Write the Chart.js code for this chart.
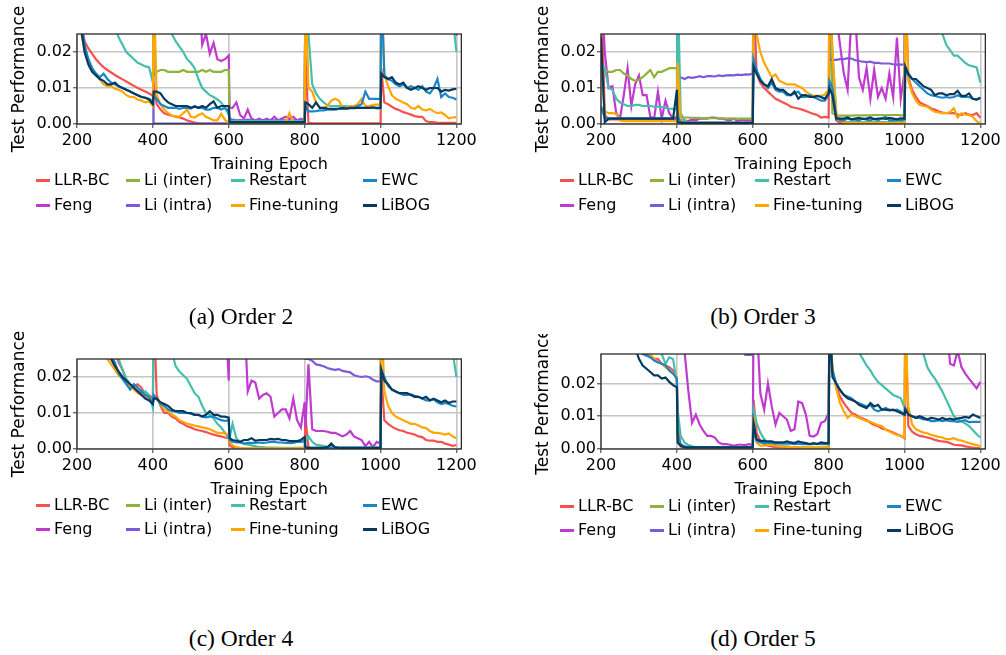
<!DOCTYPE html>
<html>
<head>
<meta charset="utf-8">
<script src="https://cdn.jsdelivr.net/npm/chart.js@4.4.0/dist/chart.umd.min.js"></script>
<style>
  body { margin: 0; background: #fff; width: 1006px; height: 655px; position: relative; overflow: hidden; font-family: 'DejaVu Sans', sans-serif; }
  canvas { position: absolute; }
  .leg { position: absolute; font-size: 16px; line-height: 20px; height: 20px; white-space: nowrap; color: #000; }
  .leg i { position: absolute; left: 0; top: 9px; width: 14px; height: 2.5px; }
  .leg span { position: absolute; left: 18px; top: 0; }
  .cap { position: absolute; font-family: 'Liberation Serif', serif; font-size: 23.5px; transform: translate(-50%, -50%); white-space: nowrap; color: #000; }
</style>
</head>
<body>
<canvas id="cA" width="480" height="175" style="left:0;top:0"></canvas>
<canvas id="cB" width="480" height="175" style="left:524px;top:0"></canvas>
<canvas id="cC" width="480" height="175" style="left:0;top:325px"></canvas>
<canvas id="cD" width="480" height="166" style="left:524px;top:334px"></canvas>
<div class="cap" style="left:241px;top:316px">(a) Order 2</div>
<div class="cap" style="left:763px;top:316px">(b) Order 3</div>
<div class="cap" style="left:241px;top:638px">(c) Order 4</div>
<div class="cap" style="left:763px;top:638px">(d) Order 5</div>
<script>
// values are in units of 0.001; H = above the visible range
const H = 40;

const EPOCHS = [
  200,210,220,230,240,250,260,270,280,290,300,310,320,330,340,350,360,370,380,390,400,
  402,410,420,430,440,450,460,470,480,490,500,510,520,530,540,550,560,570,580,590,600,
  602,610,620,630,640,650,660,670,680,690,700,710,720,730,740,750,760,770,780,790,800,
  802,810,820,830,840,850,860,870,880,890,900,910,920,930,940,950,960,970,980,990,1000,
  1002,1010,1020,1030,1040,1050,1060,1070,1080,1090,1100,1110,1120,1130,1140,1150,1160,1170,1180,1190,1200
];
const X_TICKS = [200, 400, 600, 800, 1000, 1200];
const Y_TICKS = [0, 10, 20];

// ---- (a) Order 2
const a_llr = [
  H,28,23,21,19.5,18,16.8, 15.8,15,14.3,13.6,13,12.4,11.8, 11.2,10.6,10,9.5,9,8.5,7.8,
  11,5.5,4,3,2.6,2.3,2, 1.8,1.5,1,0.7,0.4,0.2,0.1, 0.1,0.1,0.1,0.1,0.1,0.1,0.1,
  0.2,0.2,0.2,0.2,0.2,0.2,0.2, 0.2,0.2,0.2,0.2,0.2,0.2,0.2, 0.2,0.2,0.2,0.2,0.2,0.2,0.2,
  19,0.3,0.2,0.2,0.2,0.2,0.2, 0.2,0.2,0.2,0.2,0.2,0.2,0.2, 0.2,0.2,0.2,0.2,0.2,0.2,0.2,
  15.5,6,5.5,4.8,4.2,3.8,3.3, 3,2.6,2.2,2,2,0.8,0.5, 0.5,0.3,0.3,0.3,0.3,0.3,0.3
];
const a_feng = [
  H,H,H,H,H,H,H, H,H,H,H,H,H,H, H,H,H,H,H,H,H,
  H,H,H,H,H,H,H, H,H,H,H,H,H,22, 25,19.5,22.5,18,17.5,18,19,
  4.5,4.5,6,2.5,1.5,4,1.5, 1,1.5,1,1.5,1,2,1, 1.5,2,1.5,2,1,1.5,1,
  H,H,H,H,H,H,H, H,H,H,H,H,H,H, H,H,H,H,H,H,H,
  H,H,H,H,H,H,H, H,H,H,H,H,H,H, H,H,H,H,H,H,24.5
];
const a_inter = [
  H,H,H,H,H,H,H, H,H,H,H,H,H,H, H,H,H,H,H,H,H,
  13.5,14.5,15,15,14.5,14.5,14.5, 14.5,15,14.5,14.5,14.5,14.5,15, 14.5,15,14.5,14.5,14.5,15,15,
  0.3,0.3,0.3,0.3,0.3,0.3,0.3, 0.3,0.3,0.3,0.3,0.3,0.3,0.3, 0.3,0.3,0.3,0.3,0.3,0.3,0.3,
  H,H,H,H,H,H,H, H,H,H,H,H,H,H, H,H,H,H,H,H,H,
  H,H,H,H,H,H,H, H,H,H,H,H,H,H, H,H,H,H,H,H,H
];
const a_intra = [
  H,H,H,H,H,H,H, H,H,H,H,H,H,H, H,H,H,H,H,H,H,
  0.1,0.1,0.1,0.1,0.1,0.1,0.1, 0.1,0.1,0.1,0.1,0.1,0.1,0.1, 0.1,0.1,0.1,0.1,0.1,0.1,0.1,
  1.5,1.2,1,1.1,1,1.2,1, 1.1,1,1,1.1,1,1,1.1, 1,1,1.1,1,1,1.1,1,
  H,H,H,H,H,H,H, H,H,H,H,H,H,H, H,H,H,H,H,H,H,
  H,H,H,H,H,H,H, H,H,H,H,H,H,H, H,H,H,H,H,H,H
];
const a_restart = [
  H,H,H,H,H,H,H, H,H,32,27,24,22,20, 19,18,17,16.5,16,15.8,11.5,
  H,H,H,H,H,25,23, 21.5,20,18,17,15.5,12.5,10, 9,8,7.5,6.8,6,4.5,2.5,
  1,0.8,0.8,0.8,0.8,0.8,0.8, 0.8,0.8,0.8,0.8,0.8,0.8,0.8, 0.8,0.8,0.8,0.8,0.8,0.8,0.8,
  H,25,11,8.5,7,6,5.2, 5,5,5,5,5,4.8,4.8, 4.7,4.5,4.5,4.5,4.5,4.3,4.2,
  H,H,H,H,H,H,H, H,H,H,H,H,H,H, H,H,H,H,H,30,20
];
const a_ft = [
  H,26,20.5,18,15.5,13.5,12.5, 11,10.5,10.5,9.8,9.5,9,8, 7.5,7.5,6.8,6.5,6,6.3,5,
  H,8,5.5,4,3,2.3,2.2, 2,3,4,2,1.8,2.5,3, 2,1.5,1,1,2.8,1.2,0.2,
  0.5,0.5,0.5,0.4,0.5,0.5,0.4, 0.5,0.5,0.5,0.5,0.5,0.5,0.5, 0.5,0.5,3,0.5,0.5,0.5,0.5,
  H,10,9,6,4.5,4.5,5, 6.5,7,6.5,4.5,4.5,5,5, 5.5,7,5,5,5.3,5.4,5.4,
  H,14,10.5,8,7,6.5,6, 5.5,4.5,4.2,5,4,3.8,4.2, 3.5,3,3.2,2.5,1.6,1.8,1.9
];
const a_ewc = [
  H,30,22,18,15.5,14,13, 14,12.5,11.5,11,10.5,10,9.5, 9,8.5,8,7.5,7.3,7,6.3,
  7.5,7,5.5,5,4.5,4.5,4.5, 4.2,4.5,4.5,4.3,5,4.5,4.5, 4,4,4.5,4.5,4,4.5,3.5,
  0.5,0.5,0.5,0.5,0.5,0.5,0.5, 0.5,0.5,0.5,0.5,0.5,0.5,0.5, 0.5,0.5,0.5,0.5,0.5,0.5,0.5,
  5,3.5,3.5,3.6,3.8,3.8,4, 4,4,4.2,4.2,4.3,4.5,4.5, 5,5.5,9,7,7,7,7,
  H,13.5,12.5,12,11,10.5,11, 10,10.5,10,9.5,10.5,9,8.5, 10,12.5,7.5,8.5,7.5,7.3,6.8
];
const a_libog = [
  H,27,20,16.5,14.5,13.5,12.5, 12,11,11,11.5,10.5,10,9.5, 9,8.5,8,7.5,7.3,6.8,5.5,
  9,9,8.5,7,6,5.5,5, 5,5,5,4.5,4.8,4.5,5, 4.5,5.5,6.3,4.5,5,5,5,
  0.5,0.5,0.5,0.5,0.5,0.5,0.5, 0.5,0.5,0.5,0.5,0.5,0.5,0.5, 0.5,0.5,0.5,0.5,0.5,0.5,0.5,
  6,5.5,4.5,6,4.5,4.5,4.3, 4.2,4.2,4.3,4.5,4.3,4.5,4.4, 4.5,4.5,4.5,4.5,4.6,4.5,4.5,
  14,13,12.5,13,11.5,11,11.5, 10,9.5,10,10.5,10,9.5,10, 10,10,9,9.5,9.3,9.6,9.8
];

// ---- (b) Order 3
const b_llr = [
  H,2.5,1.3,1.3,1.3,1.3,1.3, 1.3,1.3,1.3,1.3,1.3,1.3,1.3, 1.3,1.3,1.3,1.3,1.3,1.3,1.3,
  3,0.8,0.2,0.2,0.2,0.2,0.2, 0.2,0.2,0.2,0.2,0.2,0.2,0.2, 0.2,0.2,0.2,0.2,0.2,0.2,0.2,
  H,14,11.5,10,9,8,7, 6.5,6,5.5,4.8,4.5,4.3,4, 3.6,3.2,2.8,2.5,1.8,2,1.8,
  H,8,1,0.3,0.1,0.1,0.1, 0.1,0.1,0.1,0.1,0.1,0.1,0.1, 0.1,0.1,0.1,0.1,0.1,0.1,0.1,
  H,13,9.5,7.5,6,5.5,5, 4.3,4,3.5,3.2,3,3,3, 2.7,2.5,3,2.6,2.5,3,1.7
];
const b_feng = [
  H,20,10,10.5,3,1.5,8, 15.5,5,11,13.5,8,8,2, 1.5,9,1.5,6.5,3,1.5,2,
  3,1,1,0.8,1.2,1,1.5, 1.5,1.5,1.8,1.8,1.5,1.5,1.2, 1,1.5,0.8,1.2,1,1,1,
  H,H,H,H,H,H,H, H,H,H,H,H,H,H, H,H,H,H,H,H,H,
  H,H,30,22,14,9.5,30, 30,13,9.5,15.5,7,15,7.5, 10,7,14,7.5,24,7,14.5,
  H,H,H,H,H,H,H, H,H,H,H,H,H,H, H,H,H,H,H,H,H
];
const b_inter = [
  17,15,14.5,14.5,15,15,14, 13.5,12.5,12,12.3,13,14,15, 13,14.5,14.5,15,15.5,15.5,15.5,
  2,1.8,1.8,1.8,1.7,1.7,1.7, 1.6,1.7,1.6,1.6,1.6,1.6,1.5, 1.6,1.5,1.5,1.5,1.5,1.5,1.5,
  H,H,H,H,H,H,H, H,H,H,H,H,H,H, H,H,H,H,H,H,H,
  H,3,2.5,2.3,2.3,2.3,2.3, 2.4,2.4,2.4,2.4,2.4,2.5,2.5, 2.5,2.4,2.5,2.5,2.5,2.4,2.4,
  H,H,H,H,H,H,H, H,H,H,H,H,H,H, H,H,H,H,H,H,H
];
const b_intra = [
  H,H,H,H,H,H,H, H,H,H,H,H,H,H, H,H,H,H,H,H,H,
  13.5,13,12.5,13,12.8,13,13.3, 13,13.3,13.3,13.2,13.5,13.3,13.5, 13.6,13.5,13.7,13.6,13.8,13.7,14,
  H,H,H,H,H,H,H, H,H,H,H,H,H,H, H,H,H,H,H,H,H,
  18,17.8,17.8,18,18,18.3,18.2, 17.7,17.5,17.3,17.2,17.3,17,17, 16.8,16.8,16.8,16.6,16.5,16.5,16.5,
  H,H,H,H,H,H,H, H,H,H,H,H,H,H, H,H,H,H,H,H,H
];
const b_restart = [
  17,15.5,10,9.5,7,6,5.5, 5,5,5.3,5.3,5,5,5, 4.8,4.8,4.7,4.5,4.3,4.2,4,
  H,3,1,0.5,0.4,0.3,0.3, 0.3,0.3,0.3,0.3,0.3,0.3,0.3, 0.3,0.3,0.3,0.3,0.3,0.3,0.3,
  H,H,H,H,H,H,H, H,H,H,H,H,H,H, H,H,H,H,H,H,H,
  H,20,3,1,0.5,0.5,0.5, 0.5,0.5,0.5,0.5,0.5,0.5,0.5, 0.5,0.5,0.5,0.5,0.5,0.5,0.5,
  H,H,H,H,H,H,H, H,H,H,25,22,20.5,19, 19,18,17,16.3,16,15.7,11.5
];
const b_ft = [
  17,3.5,3,3,2.8,1,0.8, 0.8,0.8,0.8,0.8,0.8,0.8,0.8, 0.8,0.8,0.8,0.8,0.8,0.8,0.8,
  17,1,0.5,0.3,0.3,0.3,0.3, 0.3,0.3,0.3,0.3,0.3,0.3,0.3, 0.3,0.3,0.3,0.3,0.3,0.3,0.3,
  H,25,20,17,15,13,13.8, 12,11.5,11,11,11,10.5,10, 9,8.3,7.8,7.8,7.8,8.2,9.5,
  H,20,3,1,0.5,0.3,0.3, 0.3,0.3,0.3,0.3,0.3,0.3,0.3, 0.3,0.3,0.3,0.3,0.3,0.3,0.3,
  H,12,8.5,6.5,5.3,5,4.8, 4,3.4,3.2,3,3,3.3,4.4, 1.8,3,2.6,2.5,2,0.8,0.1
];
const b_ewc = [
  5,1.6,1.6,1.6,1.6,1.6,1.6, 1.6,1.6,1.6,1.6,1.6,1.6,1.6, 1.6,1.6,1.6,1.6,1.6,1.6,1.6,
  2,0.5,0.3,0.3,0.3,0.3,0.3, 0.3,0.3,0.3,0.3,0.3,0.3,0.3, 0.3,0.3,0.3,0.3,0.3,0.3,0.3,
  18,15,12.5,11,10,11.5,9.5, 9,9,8,8,8.5,9,7.5, 7.5,8,7.5,7,6.5,6.5,8,
  12,10,2,1,1,1.5,1.2, 1.2,1,1.5,1.2,1,1.5,1, 1.5,2,1,1,1.2,1,1.3,
  15,13.5,12.5,11.5,10.5,9.5,8.5, 8,7.8,7.5,7.3,7.5,7.3,7.5, 8,7.5,7.5,7.5,7,6.8,7.2
];
const b_libog = [
  24,0.5,1.5,1.5,1.5,1.5,1.5, 1.5,1.5,1.5,1.5,1.5,1.5,1.5, 1.5,1.5,1.5,1.5,1.5,1.5,9.5,
  0.5,0.3,0.3,0.3,0.3,0.3,0.3, 0.3,0.3,0.3,0.3,0.3,0.3,0.3, 0.3,0.3,0.3,0.3,0.3,0.3,0.3,
  16,14,12,11,10.5,12.5,10, 9.5,9.5,8.5,8,9,7,8, 8,7.5,7.5,7.8,7.5,7,8.5,
  10,8,1.5,1.5,1.5,1.8,1.3, 1.5,1.7,1.4,1.5,1.8,1.3,1.5, 1.6,1.4,1.7,1.5,1.3,1.6,1.5,
  16,14,12.5,12.5,11.5,10.5,10, 9.5,8,8.5,8.5,8,8.3,8.3, 9.2,7.8,7.8,8.5,7,6.8,7.3
];

// ---- (c) Order 4
const c_llr = [
  H,H,H,H,H,H,H, H,H,H,27,24,22,19, 18,17.5,18,17,15,15,14,
  H,15,12,10,10,9,8.5, 7.5,7,6.3,6,5.5,5.2,5, 4.7,4.3,4,3.7,3.5,3.2,3,
  1,0.5,0.3,0.1,0.1,0.1,0.1, 0.1,0.1,0.1,0.1,0.1,0.1,0.1, 0.1,0.1,0.1,0.1,0.1,0.1,0.1,
  9,0.5,0.1,0.1,0.1,0.1,0.1, 0.1,0.1,0.1,0.1,0.1,0.1,0.1, 0.1,0.1,0.1,0.1,0.1,0.1,0.1,
  21,8,7,6.2,5.6,5.2,5, 4.5,4.3,4,3.5,3.3,2.5,2.3, 2.3,2,2,1.5,1.2,0.9,1.1
];
const c_feng = [
  H,H,H,H,H,H,H, H,H,H,H,H,H,H, H,H,H,H,H,H,H,
  H,H,H,H,H,H,H, H,H,H,H,H,H,H, H,H,H,H,H,H,19,
  H,H,H,H,H,16,19, 18.5,14,15,15.5,14.5,9,10, 11,11,8.5,14,8,6,13,
  6,23.5,5.5,5,5,5,4.8, 4.5,4.5,4,3.5,4,5,3.5, 3,2.5,0.8,2,0.5,2,1.5,
  H,H,H,H,H,H,H, H,H,H,H,H,H,H, H,H,H,H,H,H,H
];
const c_inter = [
  H,H,H,H,H,H,H, H,H,H,H,H,H,H, H,H,H,H,H,H,H,
  H,H,H,H,H,H,H, H,H,H,H,H,H,H, H,H,H,H,H,H,H,
  H,H,H,H,H,H,H, H,H,H,H,H,H,H, H,H,H,H,H,H,H,
  H,H,H,H,H,H,H, H,H,H,H,H,H,H, H,H,H,H,H,H,H,
  H,H,H,H,H,H,H, H,H,H,H,H,H,H, H,H,H,H,H,H,H
];
const c_intra = [
  H,H,H,H,H,H,H, H,H,H,H,H,H,H, H,H,H,H,H,H,H,
  H,H,H,H,H,H,H, H,H,H,H,H,H,H, H,H,H,H,H,H,H,
  H,H,H,H,H,H,H, H,H,H,H,H,H,H, H,H,H,H,H,H,H,
  25,25,24.5,23.5,23.3,23,22.5, 22.2,22,22.2,21.7,21.5,21.3,20.5, 20.2,20,20.2,20,19.2,18.8,18.8,
  H,H,H,H,H,H,H, H,H,H,H,H,H,H, H,H,H,H,H,H,H
];
const c_restart = [
  H,H,H,H,H,H,H, H,H,H,30,25,22,19.5, 18,17,16,15.5,16,15,11.5,
  H,H,H,H,H,27,23, 21.5,20.5,19.5,17.5,15.5,14.5,12, 10,9.5,8.5,7,6,4.5,3,
  3,7,3,2,1.5,1.2,1, 0.8,0.5,0.5,0.4,0.4,0.4,0.3, 0.3,0.3,0.3,0.3,0.3,0.3,0.3,
  2,3.5,2,1.2,1,0.8,0.6, 0.5,0.4,0.4,0.4,0.4,0.4,0.4, 0.4,0.4,0.4,0.4,0.4,0.4,0.4,
  H,H,H,H,H,H,H, H,H,H,H,H,H,H, H,H,H,H,H,27,20
];
const c_ft = [
  H,H,H,H,H,H,H, 30,25,23.5,22,20.5,19.5,18.5, 17.5,16.5,15.5,15,14.5,14,13,
  14,14,12.5,11,10.5,9.5,9, 8,7.5,7,6.8,6.5,6.3,6, 5.8,5.5,5,4.5,4.5,4.3,4,
  2,1,0.5,0.3,0.2,0.2,0.2, 0.2,0.2,0.2,0.2,0.2,0.2,0.2, 0.2,0.2,0.2,0.2,0.2,0.2,0.2,
  0.2,0.2,0.2,0.2,0.2,0.2,0.2, 0.2,0.2,0.2,0.2,0.2,0.2,0.2, 0.2,0.2,0.2,0.2,0.2,0.2,0.2,
  H,16,12,10,9,8.5,8, 7.5,7,7,6.5,6,5.8,5, 4.5,4.5,4.3,4,4.3,3.5,3
];
const c_ewc = [
  H,H,H,H,H,H,H, H,H,26,24,21,19.5,18, 16.5,18,17,16,15,14.5,12.5,
  15,14,12.5,12,11,10.5,10.5, 10,10,10,9.8,9.5,9.5,9, 8.8,9,9,8.5,8,7.8,8,
  2.5,2,1.8,1.8,1.5,1.7,1.7, 1.7,1.8,1.7,1.8,2,2,1.8, 1.8,1.7,1.6,1.7,2,2,2.2,
  0.5,0.3,0.3,0.3,0.3,0.3,0.3, 0.3,0.3,0.3,0.3,0.3,0.3,0.3, 0.3,0.3,0.3,0.3,0.3,0.3,0.3,
  22,20,17.5,16.5,16,15.5,15, 15,15.2,14.8,14.5,14,13.5,13.5, 13.8,13,12.5,12.8,12.5,12,11.8
];
const c_libog = [
  H,H,H,H,H,H,H, H,30,25,23,21.5,20,19, 18,17,16,15,14,13.5,12.5,
  14,14,13,12.5,12,11,10.5, 10.5,10.5,10,10,9.5,9.5,9, 9.5,10.5,9.5,9.5,9,9,8.7,
  3,2.5,2.3,2,2.5,2.5,3, 2.3,2.5,2.5,2.5,2.8,2.7,2.8, 2.5,2.5,2.2,2.2,2.2,2.5,3.3,
  0.5,0.3,0.3,0.3,0.3,0.3,0.5, 1.5,0.5,0.3,0.3,0.3,0.3,0.3, 0.3,0.3,0.3,0.3,0.3,0.3,0.3,
  22,19,18,16.5,16,15.5,15.5, 15.5,15,14.5,14.5,14,14.5,13.5, 14,13.5,13,13.5,12.8,13.2,13.2
];

// ---- (d) Order 5
const d_llr = [
  H,H,H,H,H,H,H, H,H,H,H,30,29,28, 27.5,27.5,26,25.5,25,24,21.5,
  8,0.8,0.3,0.3,0.3,0.3,0.3, 0.3,0.3,0.3,0.3,0.3,0.3,0.3, 0.3,0.3,0.3,0.3,0.3,0.3,0.3,
  15,5,2.5,1.5,1,0.8,0.6, 0.5,0.5,0.4,0.3,0.3,0.3,0.3, 0.3,0.3,0.3,0.3,0.3,0.3,0.3,
  H,24,19,16,14,12.5,11, 10.5,9.8,9.3,8.8,8,7.3,7, 6.3,6,5.5,5,4.5,4,3.3,
  H,7,5.3,4.5,4,3.8,3.5, 3.2,2.8,2.5,2.3,2.2,1.8,1.3, 1.2,1.1,0.8,0.6,0.4,0.3,0.2
];
const d_feng = [
  H,H,H,H,H,H,H, H,H,H,H,H,H,H, H,H,H,H,H,H,H,
  H,H,30,18,8,10.5,7.5, 5.5,4,4,3.5,2,1.5,1.5, 1.3,1,1.3,1.3,1.2,1.5,1.2,
  H,H,17,12,20,13,7.5, 11,10,9,5.5,6,14.5,14, 10.5,4,3.8,4.5,8,8.5,11,
  H,H,H,H,H,H,H, H,H,H,H,H,H,H, H,H,H,H,H,H,H,
  H,H,H,H,H,H,H, H,H,H,H,H,26,25.5, 30,25,23,21.5,20,18.5,20.5
];
const d_inter = [
  H,H,H,H,H,H,H, H,H,H,H,H,H,H, H,H,H,H,H,H,H,
  H,H,H,H,H,H,H, H,H,H,H,H,H,H, H,H,H,H,H,H,H,
  H,H,H,H,H,H,H, H,H,H,H,H,H,H, H,H,H,H,H,H,H,
  H,H,H,H,H,H,H, H,H,H,H,H,H,H, H,H,H,H,H,H,H,
  H,H,H,H,H,H,H, H,H,H,H,H,H,H, H,H,H,H,H,H,H
];
const d_intra = [
  H,H,H,H,H,H,H, H,H,H,H,H,H,H, H,H,H,H,H,H,H,
  H,H,H,H,H,H,H, H,H,H,H,H,H,H, H,H,H,H,28.8,28.7,28.8,
  H,H,H,H,H,H,H, H,H,H,H,H,H,H, H,H,H,H,H,H,H,
  H,H,H,H,H,H,H, H,H,H,H,H,H,H, H,H,H,H,H,H,H,
  H,H,H,H,H,H,H, H,H,H,H,H,H,H, H,H,H,H,H,H,H
];
const d_restart = [
  H,H,H,H,H,H,H, H,H,H,H,H,H,H, H,H,29,26,28,27.5,20,
  12,4,2,1.2,0.8,0.6,0.5, 0.5,0.5,0.5,0.5,0.5,0.5,0.5, 0.5,0.5,0.5,0.5,0.5,0.5,0.5,
  12,8,5,3,2,1.5,1.2, 1,0.8,0.7,0.6,0.5,0.5,0.5, 0.5,0.4,0.4,0.4,0.4,0.4,0.4,
  H,H,H,H,H,H,H, H,29.5,27.5,25.5,24,22,20.5, 19.5,18.5,17.5,16.5,16,15.5,12.5,
  H,H,H,H,H,29,25, 23,21.5,19.5,17.5,15,12.5,10, 9,8.5,7.8,7,5.8,4.5,3.5
];
const d_ft = [
  H,H,H,H,H,H,H, H,H,H,H,H,H,29, 27.5,26.5,26,25,24,23,22,
  3,0.8,0.3,0.3,0.3,0.3,0.3, 0.3,0.3,0.3,0.3,0.3,0.3,0.3, 0.3,0.3,0.3,0.3,0.3,0.3,0.3,
  10,2,1,1,1.2,1.3,1, 0.8,0.8,0.7,0.6,0.6,0.5,0.5, 0.5,0.5,0.5,0.5,0.5,0.5,0.5,
  H,25,18.5,14,11.5,9.5,10.5, 10,9.5,9,8.5,8.3,7.8,7.3, 7,6,5.3,4.8,4.3,4,3.5,
  H,13,7.5,6,5.5,5,4.8, 4.3,4,3.7,3.5,3,3,3.3, 2.8,2.6,2.2,1.8,1.5,1.2,0.8
];
const d_ewc = [
  H,H,H,H,H,H,H, H,H,H,H,29,28.5,28, 27,26.5,26,25.5,24,23,21.5,
  4,1.5,0.8,0.5,0.5,0.5,0.5, 0.5,0.5,0.5,0.5,0.5,0.5,0.5, 0.5,0.5,0.5,0.5,0.5,0.5,0.5,
  6,2.5,2,1.8,2,1.8,1.7, 1.7,1.6,1.6,1.6,1.5,1.6,1.5, 1.5,1.5,1.5,1.6,1.5,1.5,1.5,
  H,24,20,18,16.5,16,15.5, 14.5,14,13.5,13,13.5,12,11.5, 12,12.5,12,11.8,12,11.5,10.5,
  12.5,10.5,10,9.5,9.5,9,9, 8.5,8.5,8.8,8.5,8.8,8.5,8.5, 8.3,8.5,8.8,8.2,8.3,8.3,8.3
];
const d_libog = [
  H,H,H,H,H,H,H, H,H,31,27.5,25.5,24.5,23.5, 22.5,22.5,21.5,21.8,20.5,19.5,18.8,
  2,1,0.5,0.5,0.5,0.5,0.5, 0.5,0.5,0.5,0.5,0.5,0.5,0.5, 0.5,0.5,0.5,0.5,0.5,0.5,0.5,
  8,3,2.5,2.5,2.3,2.3,2, 2,2,2.3,2,1.8,2.3,2, 1.8,1.5,1.8,1.5,2,1.8,1.8,
  H,22,20,18,16.5,15.5,15, 14.5,13.5,13,12.5,14,13,13.5, 12,12,11.8,12,11.5,11,10.5,
  12,10.5,10,9.5,10,9.5,9, 9.5,9.3,9,9.5,9,9.3,9, 9.3,9.5,9.8,9.5,10.5,10,9.5
];

const NAMES = {
  llr: 'LLR-BC', feng: 'Feng', inter: 'Li (inter)', intra: 'Li (intra)',
  restart: 'Restart', ft: 'Fine-tuning', ewc: 'EWC', libog: 'LiBOG'
};
const COLORS = {
  llr: '#f6504f', feng: '#bf3bcf', inter: '#8db33a', intra: '#7b5bdc',
  restart: '#44bfae', ft: '#ffa600', ewc: '#1b86c5', libog: '#073a5e'
};
// first in list is drawn on top
const DRAW_ORDER = ['libog', 'ewc', 'ft', 'restart', 'intra', 'inter', 'feng', 'llr'];
const LEGEND_ROWS = [['llr', 'inter', 'restart', 'ewc'], ['feng', 'intra', 'ft', 'libog']];
const LEGEND_COLS = [36, 126, 231, 363];

const panels = [
  { id: 'cA', left: 0, top: 0, ymax: 25, padTop: 34, xh: 51, legY: [180, 205],
    d: { llr: a_llr, feng: a_feng, inter: a_inter, intra: a_intra, restart: a_restart, ft: a_ft, ewc: a_ewc, libog: a_libog } },
  { id: 'cB', left: 524, top: 0, ymax: 25, padTop: 34, xh: 51, legY: [180, 205],
    d: { llr: b_llr, feng: b_feng, inter: b_inter, intra: b_intra, restart: b_restart, ft: b_ft, ewc: b_ewc, libog: b_libog } },
  { id: 'cC', left: 0, top: 325, ymax: 25, padTop: 34, xh: 51, legY: [505, 529],
    d: { llr: c_llr, feng: c_feng, inter: c_inter, intra: c_intra, restart: c_restart, ft: c_ft, ewc: c_ewc, libog: c_libog } },
  { id: 'cD', left: 524, top: 334, ymax: 29, padTop: 20, xh: 51, legY: [506, 530],
    d: { llr: d_llr, feng: d_feng, inter: d_inter, intra: d_intra, restart: d_restart, ft: d_ft, ewc: d_ewc, libog: d_libog } }
];

const frame = {
  id: 'frame',
  afterDatasetsDraw(chart) {
    const a = chart.chartArea, ctx = chart.ctx;
    ctx.save();
    ctx.strokeStyle = '#2b2b2b';
    ctx.lineWidth = 1.3;
    ctx.strokeRect(a.left, a.top, a.right - a.left, a.bottom - a.top);
    ctx.restore();
  }
};

const tickFont = { family: 'DejaVu Sans', size: 16 };
const problems = [];

panels.forEach(p => {
  Object.keys(p.d).forEach(k => {
    if (p.d[k].length !== EPOCHS.length) problems.push(p.id + ' ' + k + ' ' + p.d[k].length);
  });
  new Chart(document.getElementById(p.id), {
    type: 'line',
    data: {
      datasets: DRAW_ORDER.map(k => ({
        label: NAMES[k],
        data: p.d[k].map((v, i) => ({ x: EPOCHS[i], y: v })),
        borderColor: COLORS[k],
        backgroundColor: COLORS[k],
        borderWidth: 2.2,
        pointRadius: 0,
        tension: 0,
        fill: false
      }))
    },
    options: {
      responsive: false,
      animation: false,
      devicePixelRatio: 1,
      layout: { padding: { top: p.padTop, right: 18, left: 0, bottom: 0 } },
      plugins: { legend: { display: false }, tooltip: { enabled: false } },
      scales: {
        x: {
          type: 'linear', min: 200, max: 1213,
          afterFit: s => { s.height = p.xh; },
          afterBuildTicks: s => { s.ticks = X_TICKS.map(v => ({ value: v })); },
          ticks: { font: tickFont, color: '#000', padding: 3, maxRotation: 0, autoSkip: false, callback: v => String(v) },
          grid: { color: '#c6c6c6', lineWidth: 1.6, tickLength: 4, tickColor: '#333', tickWidth: 1 },
          border: { display: false },
          title: { display: true, text: 'Training Epoch', font: tickFont, color: '#000', padding: { top: 0, bottom: 1 } }
        },
        y: {
          min: 0, max: p.ymax,
          afterFit: s => { s.width = 77; },
          afterBuildTicks: s => { s.ticks = Y_TICKS.map(v => ({ value: v })); },
          ticks: { font: tickFont, color: '#000', padding: 1, callback: v => (v / 1000).toFixed(2) },
          grid: { color: '#c6c6c6', lineWidth: 1.6, tickLength: 4, tickColor: '#333', tickWidth: 1 },
          border: { display: false },
          title: { display: true, text: 'Test Performance', font: { family: 'DejaVu Sans', size: 17 }, color: '#000', padding: { top: 9, bottom: 0 } }
        }
      }
    },
    plugins: [frame]
  });

  LEGEND_ROWS.forEach((row, r) => {
    row.forEach((k, c) => {
      const el = document.createElement('div');
      el.className = 'leg';
      el.style.left = (p.left + LEGEND_COLS[c]) + 'px';
      el.style.top = (p.legY[r] - 10) + 'px';
      el.innerHTML = '<i style="background:' + COLORS[k] + '"></i><span>' + NAMES[k] + '</span>';
      document.body.appendChild(el);
    });
  });
});

if (problems.length) {
  const w = document.createElement('div');
  w.style.cssText = 'position:absolute;left:300px;top:250px;color:red;font-size:14px';
  w.textContent = 'LEN: ' + problems.join(' | ');
  document.body.appendChild(w);
}
</script>
</body>
</html>
